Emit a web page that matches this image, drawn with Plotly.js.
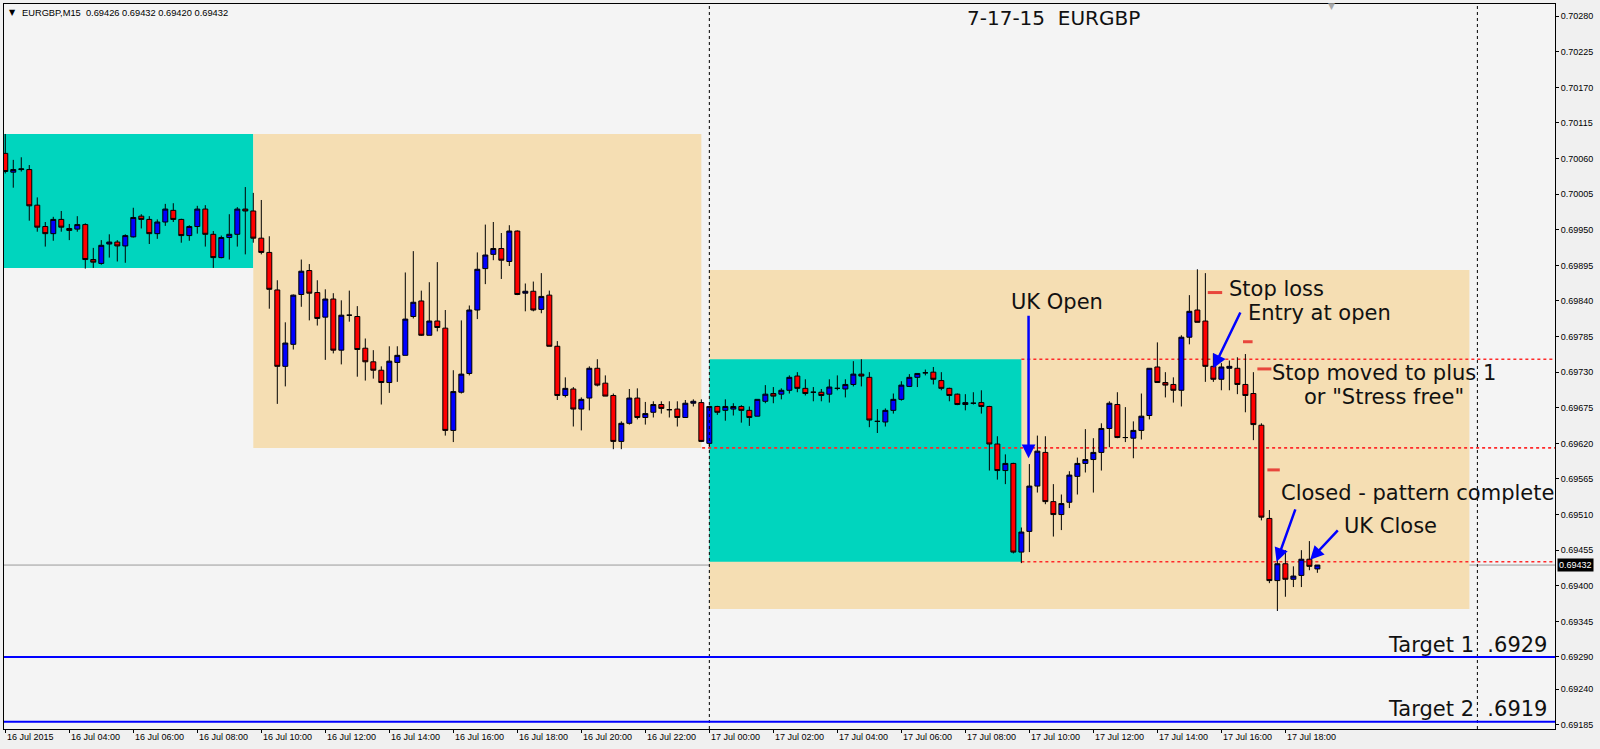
<!DOCTYPE html>
<html>
<head>
<meta charset="utf-8">
<script src="https://cdn.plot.ly/plotly-3.0.1.min.js"></script>
<style>
  html, body { margin:0; padding:0; background:#f0f0f0; }
  #chart { width:1600px; height:749px; }
</style>
</head>
<body>
<div id="chart"></div>
<script>
// ---- Data: EURGBP M15, 16 Jul 2015 02:00 onwards (one bar per 15 minutes) ----
const barStart = '2015-07-16T02:00:00Z';
const barMinutes = 15;

const opens = [
0.70068,0.70039,0.70043,0.70043,0.69988,0.69955,0.69944,0.69966,0.69952,0.69951,
0.69958,0.69904,0.69898,0.69928,0.69931,0.69925,0.69939,0.69971,0.69966,0.69944,
0.69962,0.69980,0.69966,0.69941,0.69955,0.69982,0.69943,0.69907,0.69938,0.69943,
0.69982,0.69979,0.69937,0.69915,0.69857,0.69739,0.69773,0.69850,0.69887,0.69853,
0.69815,0.69843,0.69764,0.69818,0.69816,0.69767,0.69746,0.69733,0.69714,0.69745,
0.69756,0.69816,0.69840,0.69787,0.69809,0.69798,0.69640,0.69699,0.69728,0.69826,
0.69890,0.69912,0.69921,0.69901,0.69948,0.69852,0.69855,0.69827,0.69849,0.69770,
0.69694,0.69704,0.69673,0.69690,0.69736,0.69713,0.69694,0.69623,0.69651,0.69690,
0.69660,0.69668,0.69680,0.69672,0.69673,0.69660,0.69682,0.69683,0.69620,0.69677,
0.69671,0.69673,0.69677,0.69671,0.69662,0.69685,0.69697,0.69696,0.69702,0.69724,
0.69705,0.69699,0.69699,0.69696,0.69705,0.69704,0.69711,0.69727,0.69722,0.69654,
0.69653,0.69671,0.69688,0.69708,0.69722,0.69729,0.69730,0.69717,0.69705,0.69696,
0.69680,0.69682,0.69683,0.69677,0.69619,0.69578,0.69589,0.69452,0.69484,0.69554,
0.69606,0.69530,0.69510,0.69529,0.69569,0.69589,0.69595,0.69606,0.69643,0.69680,
0.69629,0.69628,0.69640,0.69663,0.69738,0.69714,0.69711,0.69702,0.69784,0.69826,
0.69809,0.69739,0.69719,0.69736,0.69736,0.69711,0.69697,0.69648,0.69504,0.69408,
0.69434,0.69410,0.69416,0.69441,0.69426];

const highs = [
0.70098,0.70058,0.70062,0.70050,0.70000,0.69962,0.69970,0.69979,0.69959,0.69971,
0.69960,0.69922,0.69934,0.69943,0.69934,0.69943,0.69984,0.69974,0.69971,0.69966,
0.69990,0.69991,0.69967,0.69957,0.69987,0.69988,0.69948,0.69941,0.69974,0.69985,
0.70016,0.70007,0.69996,0.69940,0.69872,0.69807,0.69850,0.69904,0.69897,0.69872,
0.69858,0.69852,0.69841,0.69856,0.69832,0.69782,0.69764,0.69739,0.69770,0.69770,
0.69884,0.69917,0.69856,0.69869,0.69900,0.69826,0.69733,0.69810,0.69833,0.69915,
0.69958,0.69962,0.69945,0.69957,0.69949,0.69867,0.69870,0.69883,0.69856,0.69778,
0.69722,0.69707,0.69691,0.69739,0.69750,0.69725,0.69697,0.69654,0.69704,0.69705,
0.69684,0.69685,0.69685,0.69685,0.69685,0.69687,0.69688,0.69688,0.69678,0.69678,
0.69688,0.69682,0.69679,0.69677,0.69688,0.69710,0.69707,0.69705,0.69725,0.69730,
0.69719,0.69707,0.69704,0.69719,0.69725,0.69719,0.69747,0.69750,0.69730,0.69673,
0.69674,0.69697,0.69716,0.69727,0.69728,0.69734,0.69738,0.69730,0.69706,0.69697,
0.69696,0.69699,0.69702,0.69678,0.69631,0.69603,0.69590,0.69490,0.69588,0.69632,
0.69631,0.69557,0.69541,0.69577,0.69598,0.69642,0.69628,0.69651,0.69685,0.69699,
0.69676,0.69654,0.69697,0.69736,0.69776,0.69730,0.69722,0.69787,0.69849,0.69889,
0.69883,0.69759,0.69744,0.69748,0.69753,0.69758,0.69730,0.69651,0.69517,0.69455,
0.69455,0.69430,0.69455,0.69469,0.69432];

const lows = [
0.70037,0.70015,0.70040,0.69964,0.69947,0.69924,0.69933,0.69947,0.69934,0.69947,
0.69890,0.69891,0.69896,0.69907,0.69901,0.69899,0.69938,0.69952,0.69928,0.69936,
0.69956,0.69962,0.69930,0.69933,0.69944,0.69924,0.69891,0.69906,0.69904,0.69924,
0.69912,0.69930,0.69912,0.69828,0.69681,0.69708,0.69765,0.69831,0.69810,0.69802,
0.69749,0.69759,0.69742,0.69808,0.69723,0.69717,0.69720,0.69680,0.69698,0.69715,
0.69756,0.69813,0.69786,0.69787,0.69793,0.69632,0.69622,0.69697,0.69725,0.69812,
0.69866,0.69903,0.69874,0.69894,0.69849,0.69824,0.69824,0.69821,0.69770,0.69687,
0.69691,0.69646,0.69640,0.69671,0.69708,0.69693,0.69611,0.69611,0.69649,0.69657,
0.69649,0.69660,0.69666,0.69660,0.69646,0.69660,0.69677,0.69622,0.69616,0.69664,
0.69655,0.69663,0.69652,0.69647,0.69662,0.69682,0.69682,0.69688,0.69697,0.69699,
0.69694,0.69685,0.69685,0.69683,0.69702,0.69691,0.69708,0.69708,0.69645,0.69636,
0.69646,0.69666,0.69686,0.69707,0.69707,0.69725,0.69711,0.69702,0.69685,0.69679,
0.69671,0.69680,0.69666,0.69578,0.69564,0.69557,0.69450,0.69435,0.69452,0.69544,
0.69526,0.69476,0.69486,0.69520,0.69541,0.69575,0.69544,0.69578,0.69614,0.69628,
0.69622,0.69597,0.69626,0.69657,0.69714,0.69691,0.69683,0.69677,0.69773,0.69807,
0.69715,0.69715,0.69702,0.69702,0.69696,0.69668,0.69625,0.69501,0.69404,0.69361,
0.69383,0.69398,0.69398,0.69424,0.69420];

const closes = [
0.70040,0.70043,0.70044,0.69987,0.69954,0.69944,0.69966,0.69954,0.69949,0.69958,
0.69904,0.69900,0.69926,0.69931,0.69925,0.69941,0.69969,0.69966,0.69944,0.69962,
0.69982,0.69966,0.69941,0.69955,0.69982,0.69943,0.69907,0.69938,0.69943,0.69982,
0.69979,0.69937,0.69915,0.69858,0.69739,0.69775,0.69849,0.69886,0.69852,0.69813,
0.69843,0.69764,0.69818,0.69818,0.69765,0.69746,0.69733,0.69714,0.69747,0.69756,
0.69812,0.69838,0.69787,0.69809,0.69799,0.69640,0.69700,0.69727,0.69826,0.69889,
0.69911,0.69921,0.69903,0.69948,0.69850,0.69855,0.69826,0.69847,0.69770,0.69694,
0.69705,0.69673,0.69688,0.69736,0.69710,0.69693,0.69623,0.69651,0.69690,0.69660,
0.69666,0.69680,0.69674,0.69672,0.69660,0.69682,0.69685,0.69623,0.69677,0.69668,
0.69677,0.69677,0.69671,0.69660,0.69688,0.69696,0.69693,0.69702,0.69722,0.69705,
0.69697,0.69699,0.69694,0.69707,0.69705,0.69711,0.69727,0.69724,0.69656,0.69654,
0.69671,0.69688,0.69710,0.69722,0.69728,0.69729,0.69719,0.69705,0.69694,0.69680,
0.69683,0.69682,0.69677,0.69619,0.69578,0.69589,0.69452,0.69483,0.69554,0.69608,
0.69530,0.69510,0.69527,0.69571,0.69589,0.69595,0.69606,0.69643,0.69682,0.69629,
0.69629,0.69640,0.69662,0.69736,0.69714,0.69710,0.69702,0.69784,0.69824,0.69807,
0.69739,0.69719,0.69738,0.69739,0.69711,0.69694,0.69649,0.69506,0.69408,0.69434,
0.69410,0.69415,0.69441,0.69430,0.69432];

// Axis ticks
const yTicks = [0.70280,0.70225,0.70170,0.70115,0.70060,0.70005,0.69950,0.69895,0.69840,
                0.69785,0.69730,0.69675,0.69620,0.69565,0.69510,0.69455,0.69400,0.69345,
                0.69290,0.69240,0.69185];
const xTickBars = [0,8,16,24,32,40,48,56,64,72,80,88,96,104,112,120,128,136,144,152,160];
const xTickLabels = ['16 Jul 2015','16 Jul 04:00','16 Jul 06:00','16 Jul 08:00','16 Jul 10:00',
  '16 Jul 12:00','16 Jul 14:00','16 Jul 16:00','16 Jul 18:00','16 Jul 20:00','16 Jul 22:00',
  '17 Jul 00:00','17 Jul 02:00','17 Jul 04:00','17 Jul 06:00','17 Jul 08:00','17 Jul 10:00',
  '17 Jul 12:00','17 Jul 14:00','17 Jul 16:00','17 Jul 18:00'];

// Levels
const lastPrice = 0.69432;
const lastBar = {o:0.69426, h:0.69432, l:0.69420, c:0.69432};
const asia1 = {low:0.69891, high:0.70098};
const range1Low = 0.69613;
const asia2 = {low:0.69437, high:0.69750};
const range2 = {low:0.69364, high:0.69888};
const target1 = 0.6929, target2 = 0.6919;
const stopLevels = [0.69853, 0.69777, 0.69735, 0.69579];

// ---- helpers ----
const T0 = Date.parse(barStart);
function tAt(f){ return new Date(T0 + f*barMinutes*60000).toISOString().replace('T',' ').replace('Z',''); }
const times = opens.map((_, i) => tAt(i));

const trace = {
  type:'candlestick', x:times, open:opens, high:highs, low:lows, close:closes,
  increasing:{fillcolor:'#0000ff', line:{color:'#000000', width:1}},
  decreasing:{fillcolor:'#ff0000', line:{color:'#000000', width:1}},
  whiskerwidth:0, hoverinfo:'skip', showlegend:false
};

const TEAL = 'rgb(0,213,190)', BEIGE = 'rgb(245,222,179)';
const RED_DOT = {color:'#ff2a2a', width:1.6, dash:'dot'};
const shapes = [
  {type:'rect', layer:'below', xref:'x', yref:'y', x0:tAt(-12), x1:tAt(31), y0:asia1.low, y1:asia1.high, fillcolor:TEAL, line:{width:0}},
  {type:'rect', layer:'below', xref:'x', yref:'y', x0:tAt(31), x1:tAt(87), y0:range1Low, y1:asia1.high, fillcolor:BEIGE, line:{width:0}},
  {type:'rect', layer:'below', xref:'x', yref:'y', x0:tAt(88), x1:tAt(183), y0:range2.low, y1:range2.high, fillcolor:BEIGE, line:{width:0}},
  {type:'rect', layer:'below', xref:'x', yref:'y', x0:tAt(88), x1:tAt(127), y0:asia2.low, y1:asia2.high, fillcolor:TEAL, line:{width:0}},
  // current price line
  {type:'line', layer:'below', xref:'paper', yref:'y', x0:0, x1:1, y0:lastPrice, y1:lastPrice, line:{color:'#9a9a9a', width:1}},
  // red dotted levels
  {type:'line', layer:'below', xref:'x', yref:'y', x0:tAt(127), x1:tAt(200), y0:asia2.high, y1:asia2.high, line:RED_DOT},
  {type:'line', layer:'below', xref:'x', yref:'y', x0:tAt(87.1), x1:tAt(200), y0:range1Low, y1:range1Low, line:RED_DOT},
  {type:'line', layer:'below', xref:'x', yref:'y', x0:tAt(127), x1:tAt(200), y0:asia2.low, y1:asia2.low, line:RED_DOT},
  // vertical day separators
  {type:'line', layer:'above', xref:'x', yref:'paper', x0:tAt(88), x1:tAt(88), y0:0, y1:1, line:{color:'#000', width:1, dash:'3px,3px'}},
  {type:'line', layer:'above', xref:'x', yref:'paper', x0:tAt(184), x1:tAt(184), y0:0, y1:1, line:{color:'#000', width:1, dash:'3px,3px'}},
  // targets
  {type:'line', layer:'above', xref:'paper', yref:'y', x0:0, x1:1, y0:target1, y1:target1, line:{color:'#0000ff', width:2}},
  {type:'line', layer:'above', xref:'paper', yref:'y', x0:0, x1:1, y0:target2, y1:target2, line:{color:'#0000ff', width:2}},
  // stop markers
  {type:'line', layer:'above', xref:'x', yref:'y', x0:tAt(150.3), x1:tAt(152.1), y0:stopLevels[0], y1:stopLevels[0], line:{color:'#e8463c', width:3}},
  {type:'line', layer:'above', xref:'x', yref:'y', x0:tAt(154.7), x1:tAt(155.9), y0:stopLevels[1], y1:stopLevels[1], line:{color:'#e8463c', width:3}},
  {type:'line', layer:'above', xref:'x', yref:'y', x0:tAt(156.5), x1:tAt(158.25), y0:stopLevels[2], y1:stopLevels[2], line:{color:'#e8463c', width:3}},
  {type:'line', layer:'above', xref:'x', yref:'y', x0:tAt(157.75), x1:tAt(159.3), y0:stopLevels[3], y1:stopLevels[3], line:{color:'#e8463c', width:3}}
];

const F = 'DejaVu Sans';
const BIG = {family:F, size:21, color:'#111111'};
function txt(text, bar, price, xanchor){
  return {text:text, xref:'x', yref:'y', x:tAt(bar), y:price, xanchor:xanchor||'left', yanchor:'middle', showarrow:false, font:BIG};
}
function arrow(bar, price, ax, ay){
  return {text:'', xref:'x', yref:'y', x:tAt(bar), y:price, ax:ax, ay:ay, showarrow:true,
          arrowhead:2, arrowsize:1.1, arrowwidth:2.5, arrowcolor:'#0000ff', standoff:0};
}

const annotations = [
  {text:'7-17-15  EURGBP', xref:'x', yref:'y', x:tAt(130.96), y:0.70277, xanchor:'center', yanchor:'middle', showarrow:false, font:{family:F, size:20, color:'#111'}},
  {text:'▼', xref:'paper', yref:'paper', x:0.0055, y:0.9880, xanchor:'center', yanchor:'middle', showarrow:false, font:{family:F, size:8, color:'#000'}},
  {text:'EURGBP,M15  ' + [lastBar.o,lastBar.h,lastBar.l,lastBar.c].map(v=>v.toFixed(5)).join(' '),
   xref:'paper', yref:'paper', x:0.0103, y:0.9880, xanchor:'left', yanchor:'middle', showarrow:false, font:{family:'Liberation Sans', size:9.3, color:'#000'}},
  {text:'▼', xref:'paper', yref:'paper', x:0.8562, y:0.9975, xanchor:'center', yanchor:'middle', showarrow:false, font:{family:F, size:9, color:'#a8a8a8'}},
  {text:lastPrice.toFixed(5), xref:'paper', yref:'y', x:1.0013, y:lastPrice, xanchor:'left', yanchor:'middle', showarrow:false, bgcolor:'#000', borderpad:1, font:{family:'Liberation Sans', size:9, color:'#fff'}},
  txt('UK Open', 125.5, 0.69839),
  txt('Stop loss', 152.7, 0.69858),
  txt('Entry at open', 155.1, 0.69821),
  txt('Stop moved to plus 1', 172.3, 0.69728, 'center'),
  txt('or "Stress free"', 172.3, 0.69692, 'center'),
  txt('Closed - pattern complete', 159.25, 0.69544),
  txt('UK Close', 167.05, 0.69493),
  txt('Target 1\u00a0\u00a0.6929', 192.9, 0.69308, 'right'),
  txt('Target 2\u00a0\u00a0.6919', 192.9, 0.69210, 'right'),
  arrow(127.9, 0.69597, 0, -144),
  arrow(151.0, 0.69736, 27.7, -57.3),
  arrow(158.9, 0.69437, 19.3, -54),
  arrow(163.1, 0.69440, 29, -31)
];
xTickBars.forEach((b, k) => {
  annotations.push({text:xTickLabels[k], xref:'x', yref:'paper', x:tAt(b), y:-0.011, xanchor:'left', yanchor:'middle',
    showarrow:false, font:{family:'Liberation Sans', size:9, color:'#000'}});
});

const layout = {
  width:1600, height:749,
  margin:{l:4, r:45, t:4, b:20},
  paper_bgcolor:'#f0f0f0', plot_bgcolor:'#f4f4f4',
  showlegend:false, hovermode:false, boxgap:0.38, boxgroupgap:0,
  xaxis:{type:'date', range:[tAt(-0.16), tAt(193.7)], rangeslider:{visible:false},
         showgrid:false, zeroline:false, showline:true, mirror:true, linecolor:'#000', linewidth:1,
         ticks:'outside', ticklen:3, tickcolor:'#000', tickvals:xTickBars.map(b=>tAt(b)), showticklabels:false, fixedrange:true},
  yaxis:{range:[0.691787, 0.702988], side:'right', showgrid:false, zeroline:false, showline:true, mirror:true,
         linecolor:'#000', linewidth:1, ticks:'outside', ticklen:3, tickcolor:'#000',
         tickvals:yTicks, ticktext:yTicks.map(v=>v.toFixed(5)),
         tickfont:{family:'Liberation Sans', size:9, color:'#000'}, fixedrange:true},
  shapes:shapes, annotations:annotations
};

Plotly.newPlot('chart', [trace], layout, {displayModeBar:false, staticPlot:true});
</script>
</body>
</html>
